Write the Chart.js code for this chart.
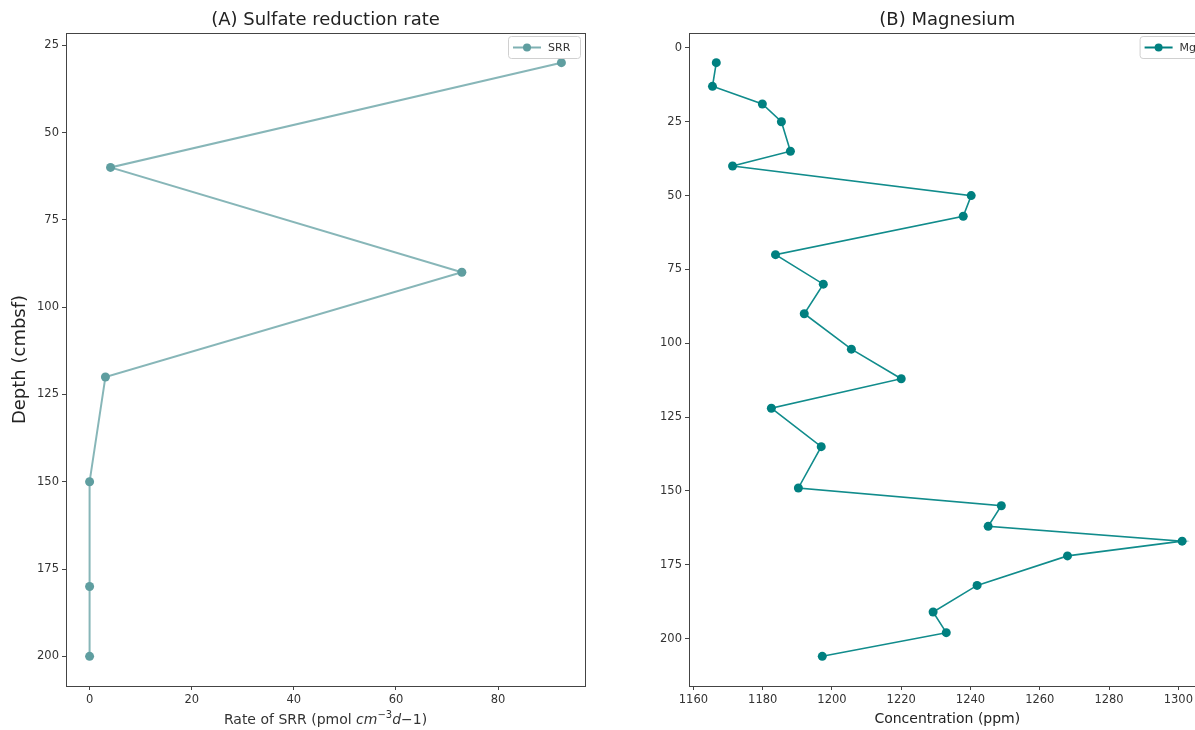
<!DOCTYPE html>
<html>
<head>
<meta charset="utf-8">
<title>Sulfate reduction rate and magnesium profiles</title>
<script src="https://cdn.jsdelivr.net/npm/chart.js@4.4.1/dist/chart.umd.min.js"></script>
<style>
  html, body { margin: 0; padding: 0; background: #fff; overflow: hidden; }
  #wrap { position: relative; width: 1195px; height: 730px; overflow: hidden; }
  canvas { position: absolute; top: 0; }
  #srrChart { left: 0; }
  #mgChart { left: 600px; }
</style>
</head>
<body>
<div id="wrap">
  <canvas id="srrChart" width="600" height="730"></canvas>
  <canvas id="mgChart" width="640" height="730"></canvas>
</div>
<script>
// sulfate reduction rate profile
const srrDepth = [30, 60, 90, 120, 150, 180, 200];
const srrRate = [92.4, 4.1, 72.9, 3.1, 0, 0, 0];

// magnesium profile
const mgDepth = [5, 13, 19, 25, 35, 40, 50, 57, 70, 80, 90, 102, 112, 122, 135, 149,
  155, 162, 167, 172, 182, 191, 198, 206];
const mgConc = [1166.6, 1165.5, 1179.9, 1185.4, 1188.0, 1171.3, 1240.2, 1237.9, 1183.7,
  1197.5, 1192.0, 1205.6, 1220.0, 1182.5, 1196.9, 1190.3, 1248.9, 1245.1, 1301.1,
  1268.0, 1241.9, 1229.2, 1233.0, 1197.2];

// tick labels
const srrRateTicks = [0, 20, 40, 60, 80];
const srrDepthTicks = [25, 50, 75, 100, 125, 150, 175, 200];
const mgConcTicks = [1160, 1180, 1200, 1220, 1240, 1260, 1280, 1300];
const mgDepthTicks = [0, 25, 50, 75, 100, 125, 150, 175, 200];

const FONT = "'DejaVu Sans', sans-serif";
const INK = "#333";

// 5% padding either side, like matplotlib autoscale
function padded(values) {
  const lo = Math.min(...values), hi = Math.max(...values);
  const m = (hi - lo) * 0.05;
  return { min: lo - m, max: hi + m };
}

function points(xs, ys) {
  return xs.map((x, i) => ({ x: x, y: ys[i] }));
}

// box round the plot + small legend inside the top right corner
const framePlugin = {
  id: "frame",
  afterDraw(chart, args, opts) {
    const { ctx, chartArea: a } = chart;
    ctx.save();
    ctx.strokeStyle = "#444";
    ctx.lineWidth = 1;
    ctx.strokeRect(Math.round(a.left) + 0.5, Math.round(a.top) + 0.5,
      Math.round(a.right - a.left), Math.round(a.bottom - a.top));

    if (opts.legend) {
      const lg = opts.legend;
      const x = a.right - lg.offsetRight, y = a.top + 3;
      const w = lg.width, h = 22;
      ctx.fillStyle = "rgba(255,255,255,0.85)";
      ctx.strokeStyle = "#d0d0d0";
      ctx.beginPath();
      ctx.roundRect(x + 0.5, y + 0.5, w, h, 3);
      ctx.fill();
      ctx.stroke();
      ctx.strokeStyle = lg.line;
      ctx.lineWidth = lg.lineWidth;
      ctx.beginPath();
      ctx.moveTo(x + 5, y + h / 2 + 0.5);
      ctx.lineTo(x + 33, y + h / 2 + 0.5);
      ctx.stroke();
      ctx.fillStyle = lg.point;
      ctx.beginPath();
      ctx.arc(x + 19, y + h / 2 + 0.5, 4, 0, Math.PI * 2);
      ctx.fill();
      ctx.fillStyle = INK;
      ctx.font = "11px " + FONT;
      ctx.textBaseline = "middle";
      ctx.textAlign = "left";
      ctx.fillText(lg.text, x + 40, y + h / 2 + 1);
    }

    // x axis label with math-style units
    if (opts.rateLabel) {
      const parts = [
        { t: "Rate of SRR (pmol ", f: "14px " + FONT, dy: 0 },
        { t: "cm", f: "italic 14px " + FONT, dy: 0 },
        { t: "\u22123", f: "10px " + FONT, dy: -6 },
        { t: "d", f: "italic 14px " + FONT, dy: 0 },
        { t: "\u22121", f: "14px " + FONT, dy: 0 },
        { t: ")", f: "14px " + FONT, dy: 0 }
      ];
      let total = 0;
      parts.forEach(p => { ctx.font = p.f; p.w = ctx.measureText(p.t).width; total += p.w; });
      let cx = (a.left + a.right) / 2 - total / 2;
      const by = 724;
      ctx.fillStyle = INK;
      ctx.textBaseline = "alphabetic";
      ctx.textAlign = "left";
      parts.forEach(p => {
        ctx.font = p.f;
        ctx.fillText(p.t, cx, by + p.dy);
        cx += p.w;
      });
    }
    ctx.restore();
  }
};

function axis(tickValues, range, extra) {
  return Object.assign({
    type: "linear",
    min: range.min,
    max: range.max,
    afterBuildTicks: s => { s.ticks = tickValues.map(v => ({ value: v })); },
    grid: { drawOnChartArea: false, drawTicks: true, tickLength: 4, color: "#444" },
    border: { display: false },
    ticks: {
      color: INK,
      font: { family: FONT, size: 11.5 },
      padding: 3,
      maxRotation: 0,
      callback: v => String(v)
    }
  }, extra);
}

const srrX = padded(srrRate);
const srrY = padded(srrDepth);

new Chart(document.getElementById("srrChart"), {
  type: "scatter",
  data: {
    datasets: [{
      label: "SRR",
      data: points(srrRate, srrDepth),
      showLine: true,
      borderColor: "rgba(95,158,160,0.75)",
      borderWidth: 2,
      backgroundColor: "#5f9ea0",
      pointBackgroundColor: "#5f9ea0",
      pointBorderWidth: 0,
      pointRadius: 4.5
    }]
  },
  options: {
    responsive: false,
    animation: false,
    layout: { padding: { right: 15, bottom: 0 } },
    plugins: {
      legend: { display: false },
      tooltip: { enabled: false },
      title: {
        display: true,
        fullSize: false,
        text: "(A) Sulfate reduction rate",
        color: "#222",
        font: { family: FONT, size: 18, weight: "normal" },
        padding: { top: 10, bottom: 1.4 }
      },
      frame: {
        legend: { text: "SRR", width: 72, offsetRight: 77, line: "rgba(95,158,160,0.8)", lineWidth: 2, point: "#5f9ea0" },
        rateLabel: true
      }
    },
    scales: {
      x: axis(srrRateTicks, srrX, {
        afterFit: s => { s.height = 44; }
      }),
      y: axis(srrDepthTicks, srrY, {
        reverse: true,
        afterFit: s => { s.width = 66; },
        title: {
          display: true,
          text: "Depth (cmbsf)",
          color: "#222",
          font: { family: FONT, size: 18 },
          padding: { top: 10 }
        }
      })
    }
  },
  plugins: [framePlugin]
});

const mgX = padded(mgConc);
const mgY = padded(mgDepth);

new Chart(document.getElementById("mgChart"), {
  type: "scatter",
  data: {
    datasets: [{
      label: "Mg",
      data: points(mgConc, mgDepth),
      showLine: true,
      borderColor: "#118c8c",
      borderWidth: 1.6,
      backgroundColor: "#008080",
      pointBackgroundColor: "#008080",
      pointBorderWidth: 0,
      pointRadius: 4.5
    }]
  },
  options: {
    responsive: false,
    animation: false,
    layout: { padding: { right: 34.4, bottom: 0 } },
    plugins: {
      legend: { display: false },
      tooltip: { enabled: false },
      title: {
        display: true,
        fullSize: false,
        text: "(B) Magnesium",
        color: "#222",
        font: { family: FONT, size: 18, weight: "normal" },
        padding: { top: 10, bottom: 1.4 }
      },
      frame: {
        legend: { text: "Mg", width: 72, offsetRight: 66, line: "#008080", lineWidth: 2, point: "#008080" }
      }
    },
    scales: {
      x: axis(mgConcTicks, mgX, {
        afterFit: s => { s.height = 44; },
        title: {
          display: true,
          text: "Concentration (ppm)",
          color: "#222",
          font: { family: FONT, size: 14 },
          padding: { bottom: 2 }
        }
      }),
      y: axis(mgDepthTicks, mgY, {
        reverse: true,
        afterFit: s => { s.width = 89; }
      })
    }
  },
  plugins: [framePlugin]
});
</script>
</body>
</html>
